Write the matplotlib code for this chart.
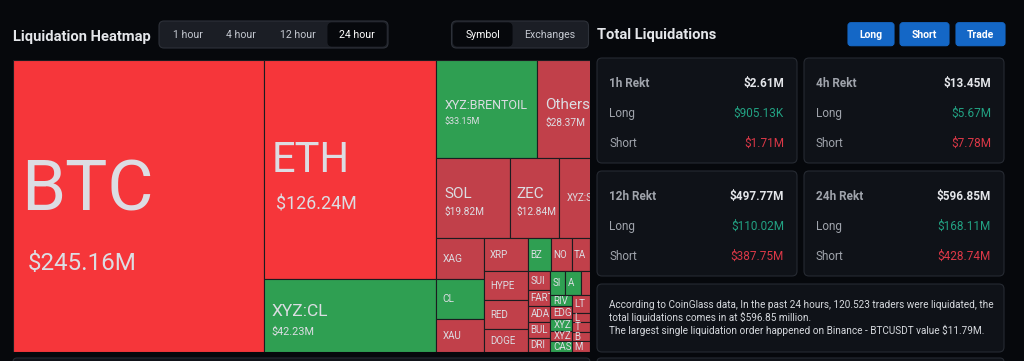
"""Liquidation heatmap dashboard snapshot: treemap of 24h liquidations plus the
Total Liquidations side panel. Single full-figure axes in pixel units."""
import matplotlib

matplotlib.use("Agg")
import matplotlib.pyplot as plt
from matplotlib.patches import Rectangle, FancyBboxPatch
from matplotlib.transforms import Bbox, TransformedBbox

BG = "#06080c"
CARD = "#0f1218"
CARD_EDGE = "#262a32"
TAB_BG = "#1b1e25"
TAB_EDGE = "#2d3139"
FG = "#e4e6ea"
MUTED = "#a0a4ac"
CELL_TXT = "#dcdde3"
BLUE = "#1467c6"
LONG_C = "#22a283"
SHORT_C = "#dc3847"
TONE = {"R": "#f6363a", "m": "#c1404a", "g": "#2f9f52"}

plt.rcParams["font.family"] = ["Roboto", "DejaVu Sans"]


def leaves(names, values, tones):
    return list(zip(names, values, tones))


# ---- treemap data ($M), grouped the way the heatmap nests them ----
BTC = leaves(["BTC"], [245.16], ["R"])
COL_ETH = leaves(["ETH", "XYZ:CL"], [126.24, 42.23], ["R", "g"])
ROW_OIL = leaves(["XYZ:BRENTOIL", "Others"], [33.15, 28.37], ["g", "m"])
ROW_SOL = leaves(["SOL", "ZEC", "XYZ:SILVER"], [19.82, 12.84, 17.5], ["m", "m", "m"])
COL_XAG = leaves(["XAG", "CL", "XAU"], [6.6, 6.4, 5.3], ["m", "g", "m"])
COL_XRP = leaves(["XRP", "HYPE", "RED", "DOGE"], [4.75, 4.3, 4.2, 3.3], ["m"] * 4)
ROW_BZ = leaves(["BZ", "NO", "TA", ""], [2.54, 2.3, 2.0, 3.76], ["g", "m", "m", "m"])
COL_SUI = leaves(["SUI", "FARTCOIN", "ADA", "BUL", "DRI"],
                 [1.46, 1.23, 1.23, 1.23, 1.08], ["m"] * 5)
ROW_SI = leaves(["SI", "A", ""], [1.25, 1.25, 3.6], ["g", "g", "m"])
COL_RIV = leaves(["RIV", "EDG", "XYZ", "XYZ", "CAS"],
                 [0.74, 0.96, 0.88, 0.74, 0.81], ["g", "m", "g", "m", "g"])
COL_LT = leaves(["LT", "L", "T", "B", "M"], [1.02, 0.57, 0.57, 0.57, 0.63], ["m"] * 5)
REST = leaves([""], [6.44], ["m"])

TREE = [BTC, COL_ETH,
        [ROW_OIL, ROW_SOL,
         [COL_XAG, COL_XRP,
          [ROW_BZ, [COL_SUI, [ROW_SI, [COL_RIV, COL_LT, REST]]]]]]]

# ---- side panel data ----
PERIODS = ["1 hour", "4 hour", "12 hour", "24 hour"]
VIEWS = ["Symbol", "Exchanges"]
BUTTONS = ["Long", "Short", "Trade"]
REKT = ["1h", "4h", "12h", "24h"]
REKT_TOTAL = [2.61, 13.45, 497.77, 596.85]
REKT_LONG = [0.90513, 5.67, 110.02, 168.11]
REKT_SHORT = [1.71, 7.78, 387.75, 428.74]
INFO = [
    "According to CoinGlass data, In the past 24 hours, 120.523 traders were liquidated, the",
    "total liquidations comes in at $596.85 million.",
    "The largest single liquidation order happened on Binance - BTCUSDT value $11.79M.",
]


def total(node):
    if isinstance(node, tuple):
        return node[1]
    return sum(total(c) for c in node)


def layout(node, x, y, w, h, horiz, out):
    if isinstance(node, tuple):
        out.append((node, x, y, w, h))
        return
    tot = total(node)
    for child in node:
        f = total(child) / tot
        if horiz:
            layout(child, x, y, w * f, h, not horiz, out)
            x += w * f
        else:
            layout(child, x, y, w, h * f, not horiz, out)
            y += h * f


def money(v):
    return f"${v * 1000:.2f}K" if v < 1 else f"${v:.2f}M"


fig = plt.figure(figsize=(10.24, 3.61), dpi=100, facecolor=BG)
ax = fig.add_axes([0, 0, 1, 1])
ax.set_xlim(0, 1024)
ax.set_ylim(361, 0)
ax.axis("off")
ax.set_facecolor(BG)


def txt(x, yc, s, fs, **kw):
    # place text by the centre of its capitals
    return ax.text(x, yc + 0.49 * fs, s, fontsize=fs, va="baseline", **kw)


def rbox(x, y, w, h, fc, ec, r=4, lw=0.8):
    ax.add_patch(FancyBboxPatch((x, y), w, h, boxstyle=f"round,pad=0,rounding_size={r}",
                                fc=fc, ec=ec, lw=lw))


def clip_to(artist, x0, y0, x1, y1):
    artist.set_clip_box(TransformedBbox(Bbox.from_extents(x0, y0, x1, y1), ax.transData))
    artist.set_clip_path(None)
    artist.set_clip_on(True)


# ---- header ----
txt(13, 36, "Liquidation Heatmap", 10.6, color=FG, weight="bold")
rbox(159, 21, 229, 27, TAB_BG, TAB_EDGE, r=5)
rbox(328, 23, 58, 23, BG, BG, r=4)
for label, cx in zip(PERIODS, [187.5, 241, 298, 357]):
    txt(cx, 34.3, label, 7.6, color="white" if label == "24 hour" else "#c5c9d1", ha="center")
rbox(451.5, 21, 137, 27, TAB_BG, TAB_EDGE, r=5)
rbox(453.5, 23, 58.5, 23, BG, BG, r=4)
for label, cx in zip(VIEWS, [483, 549.6]):
    txt(cx, 34.3, label, 7.6, color="white" if label == "Symbol" else "#c5c9d1", ha="center")

txt(597, 34, "Total Liquidations", 10.6, color=FG, weight="bold")
for label, (bx, bw) in zip(BUTTONS, [(848, 46), (900, 49), (956, 49)]):
    rbox(bx, 22.7, bw, 23, BLUE, BLUE, r=3)
    txt(bx + bw / 2, 34.2, label, 7.5, color="white", weight="bold", ha="center")

# ---- treemap (right part runs under the side panel, so clip at x=590) ----
cells = []
layout(TREE, 13, 60, 611, 292, True, cells)
VIS_X1 = 590

for (name, val, tone), x, y, w, h in cells:
    p = ax.add_patch(Rectangle((x, y), w, h, fc=TONE[tone], ec="#1c1c20", lw=0.8))
    clip_to(p, 13, 60, VIS_X1, 352)

for (name, val, tone), x, y, w, h in cells:
    if not name or x >= VIS_X1:
        continue
    fs = max(0.00654 * (w * h) ** 0.8, min(11, 0.18 * h), 7)
    fs = max(7, min(fs, 1.07 * w / len(name)))
    px = x + min(8, 0.13 * w)
    cy = y + h / 2
    x1 = min(x + w, VIS_X1)
    if fs >= 8.5:
        fv = 1.85 * fs ** 0.57
        en, ev = fs * 1.389, fv * 1.389
        gap = 0.9 * en + 0.5 * ev
        yn = cy - 0.27 * gap
        t1 = txt(px, yn, name, fs, color=CELL_TXT)
        t2 = txt(px + (0.14 * fs if fs > 20 else 0), yn + gap, money(val), fv, color=CELL_TXT)
        clip_to(t1, x, y, x1, y + h)
        clip_to(t2, x, y, x1, y + h)
    else:
        t = txt(px, cy, name, fs, color=CELL_TXT)
        clip_to(t, x, y, x1, y + h)

# ---- rekt cards ----
for i, per in enumerate(REKT):
    cx0 = 597 if i % 2 == 0 else 804
    cy0 = 58 if i < 2 else 171
    rbox(cx0, cy0, 200, 105, CARD, CARD_EDGE, r=5)
    right = cx0 + 187
    rows = [(f"{per} Rekt", money(REKT_TOTAL[i]), FG),
            ("Long", money(REKT_LONG[i]), LONG_C),
            ("Short", money(REKT_SHORT[i]), SHORT_C)]
    for j, (lab, value, vc) in enumerate(rows):
        yc = cy0 + 25 + 30 * j
        txt(cx0 + 12, yc, lab, 8.5, color=MUTED, weight="bold" if j == 0 else "normal")
        txt(right, yc, value, 8.5, color=vc, ha="right", weight="bold" if j == 0 else "normal")

# ---- info box ----
rbox(597, 284, 407, 68, CARD, CARD_EDGE, r=5)
for k, line in enumerate(INFO):
    txt(609, 304 + 13 * k, line, 7.2, color="#d6d9de")

# panels peeking in at the bottom edge
rbox(13, 358, 577, 20, CARD, CARD_EDGE, r=4)
rbox(597, 358, 407, 20, CARD, CARD_EDGE, r=4)

fig.savefig("out.png", dpi=100, facecolor=BG)
